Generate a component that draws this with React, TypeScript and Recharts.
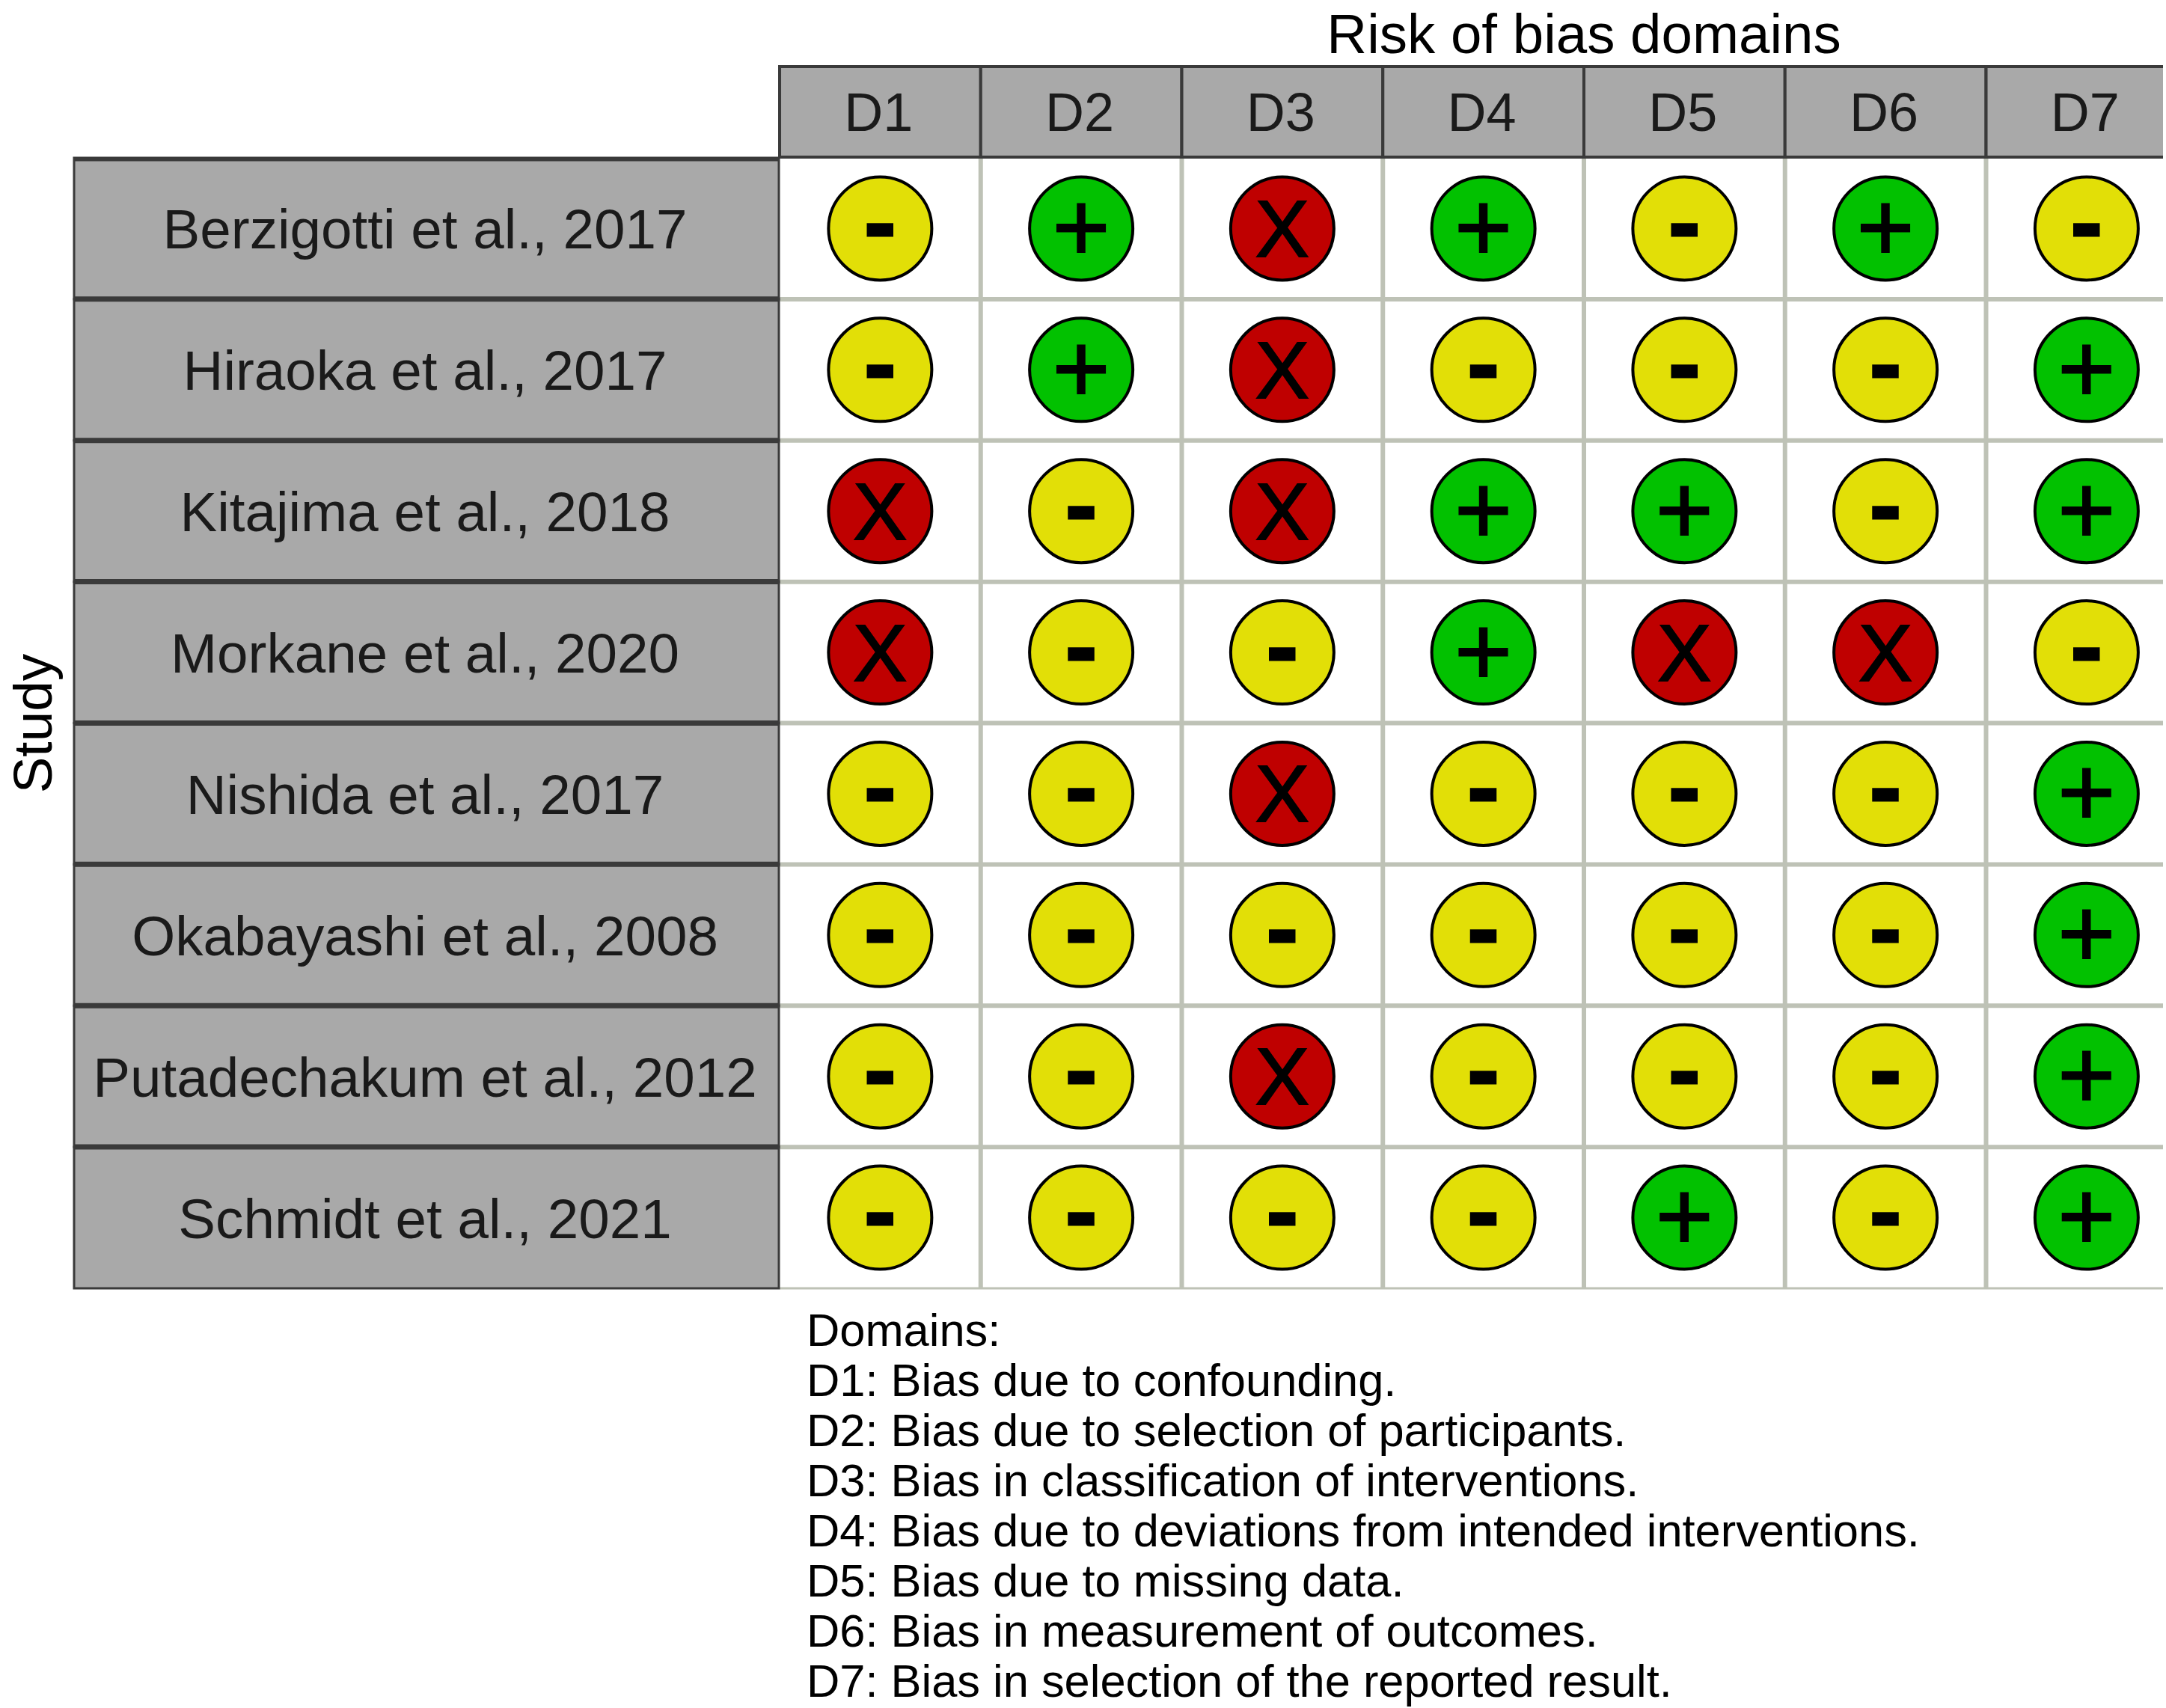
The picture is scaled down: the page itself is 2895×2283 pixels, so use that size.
import {
  CartesianGrid,
  ReferenceLine,
  Scatter,
  ScatterChart,
  XAxis,
  YAxis,
} from "recharts";

const studies = [
  "Berzigotti et al., 2017",
  "Hiraoka et al., 2017",
  "Kitajima et al., 2018",
  "Morkane et al., 2020",
  "Nishida et al., 2017",
  "Okabayashi et al., 2008",
  "Putadechakum et al., 2012",
  "Schmidt et al., 2021",
];
const domains = ["D1", "D2", "D3", "D4", "D5", "D6", "D7"];

// one judgement per domain, same order as studies
const berzigotti = ["-", "+", "X", "+", "-", "+", "-"];
const hiraoka = ["-", "+", "X", "-", "-", "-", "+"];
const kitajima = ["X", "-", "X", "+", "+", "-", "+"];
const morkane = ["X", "-", "-", "+", "X", "X", "-"];
const nishida = ["-", "-", "X", "-", "-", "-", "+"];
const okabayashi = ["-", "-", "-", "-", "-", "-", "+"];
const putadechakum = ["-", "-", "X", "-", "-", "-", "+"];
const schmidt = ["-", "-", "-", "-", "+", "-", "+"];
const judgements = [berzigotti, hiraoka, kitajima, morkane, nishida, okabayashi, putadechakum, schmidt];

const domainNotes = [
  "Domains:",
  "D1: Bias due to confounding.",
  "D2: Bias due to selection of participants.",
  "D3: Bias in classification of interventions.",
  "D4: Bias due to deviations from intended interventions.",
  "D5: Bias due to missing data.",
  "D6: Bias in measurement of outcomes.",
  "D7: Bias in selection of the reported result.",
];

const colours: Record<string, string> = { "+": "#02C100", "-": "#E2DF07", X: "#BF0000" };

const cells = judgements.flatMap((row, r) =>
  row.map((mark, c) => ({ x: c + 1, y: r + 1, mark }))
);
const seriesFor = (mark: string) => cells.filter((d) => d.mark === mark);

const FONT = "'Liberation Sans', Arial, sans-serif";
const COL_W = 268.7;
const ROW_H = 188.9;
const PANEL = "#A9A9A9";
const EDGE = "#3A3A3A";
const INK = "#1A1A1A";

// glyph tweaks so the symbols sit centred and as heavy as the original
const glyphs: Record<string, any> = {
  "+": { fontSize: 132, dy: -2, strokeWidth: 2 },
  "-": { fontSize: 128, dy: -9, strokeWidth: 3, fontWeight: 700 },
  X: { fontSize: 108, dy: 0, strokeWidth: 2 },
};

const Header = ({ x, y, payload }: any) => (
  <g>
    <rect x={x - COL_W / 2} y={89} width={COL_W} height={121} fill={PANEL} stroke={EDGE} strokeWidth={4} />
    <text x={x - 2} y={y - 53} textAnchor="middle" dominantBaseline="central" fontFamily={FONT} fontSize={72} fill={INK}>
      {domains[payload.value - 1]}
    </text>
  </g>
);

const RowLabel = ({ x, y, payload }: any) => {
  const left = 99;
  const right = 1041;
  const top = y - ROW_H / 2;
  return (
    <g>
      <rect x={left} y={top} width={right - left} height={ROW_H} fill={PANEL} stroke={EDGE} strokeWidth={3} />
      {payload.value === 1 ? (
        <line x1={left} x2={right} y1={top + 2} y2={top + 2} stroke={EDGE} strokeWidth={5} />
      ) : (
        <line x1={left} x2={right} y1={top} y2={top} stroke={EDGE} strokeWidth={7} />
      )}
      <text x={(left + right) / 2 - 2} y={y + 1} textAnchor="middle" dominantBaseline="central" fontFamily={FONT} fontSize={74.6} fill={INK}>
        {studies[payload.value - 1]}
      </text>
    </g>
  );
};

const Verdict = ({ cx, cy, payload }: any) => {
  const g = glyphs[payload.mark];
  return (
    <g>
      <circle cx={cx} cy={cy} r={69} fill={colours[payload.mark]} stroke="#000" strokeWidth={4} />
      <text
        x={cx}
        y={cy + g.dy}
        textAnchor="middle"
        dominantBaseline="central"
        fontFamily={FONT}
        fontSize={g.fontSize}
        fontWeight={g.fontWeight}
        fill="#000"
        stroke="#000"
        strokeWidth={g.strokeWidth}
      >
        {payload.mark}
      </text>
    </g>
  );
};

const App = () => (
  <div style={{ position: "absolute", left: 0, top: 0, width: 2891, height: 2283, overflow: "hidden", background: "#fff" }}>
    <ScatterChart
      width={2891}
      height={2283}
      margin={{ top: 87, right: 0, bottom: 561, left: 98 }}
    >
      <CartesianGrid
        stroke="#BEC2B6"
        strokeWidth={6}
        verticalValues={[1.5, 2.5, 3.5, 4.5, 5.5, 6.5]}
        horizontalValues={[1.5, 2.5, 3.5, 4.5, 5.5, 6.5, 7.5]}
      />
      <ReferenceLine y={8.5} stroke="#BEC2B6" strokeWidth={3} />
      <XAxis
        type="number"
        dataKey="x"
        orientation="top"
        domain={[0.5, 7.38]}
        ticks={[1, 2, 3, 4, 5, 6, 7]}
        interval={0}
        height={124}
        axisLine={false}
        tickLine={false}
        tick={Header}
      />
      <YAxis
        type="number"
        dataKey="y"
        reversed
        domain={[0.5, 8.5]}
        ticks={[1, 2, 3, 4, 5, 6, 7, 8]}
        interval={0}
        width={944}
        axisLine={false}
        tickLine={false}
        tick={RowLabel}
      />
      <Scatter name="Low" data={seriesFor("+")} shape={Verdict} isAnimationActive={false} />
      <Scatter name="Some concerns" data={seriesFor("-")} shape={Verdict} isAnimationActive={false} />
      <Scatter name="High" data={seriesFor("X")} shape={Verdict} isAnimationActive={false} />
      <text x={2117} y={45} textAnchor="middle" dominantBaseline="central" fontFamily={FONT} fontSize={74.5} fill="#000">
        Risk of bias domains
      </text>
      <text
        x={43}
        y={967}
        textAnchor="middle"
        dominantBaseline="central"
        transform="rotate(-90 43 967)"
        fontFamily={FONT}
        fontSize={73}
        fill="#000"
      >
        Study
      </text>
      {domainNotes.map((line, i) => (
        <text key={line} x={1078} y={1777 + i * 67.1} dominantBaseline="central" fontFamily={FONT} fontSize={61.4} fill="#000">
          {line}
        </text>
      ))}
    </ScatterChart>
  </div>
);

export default App;
